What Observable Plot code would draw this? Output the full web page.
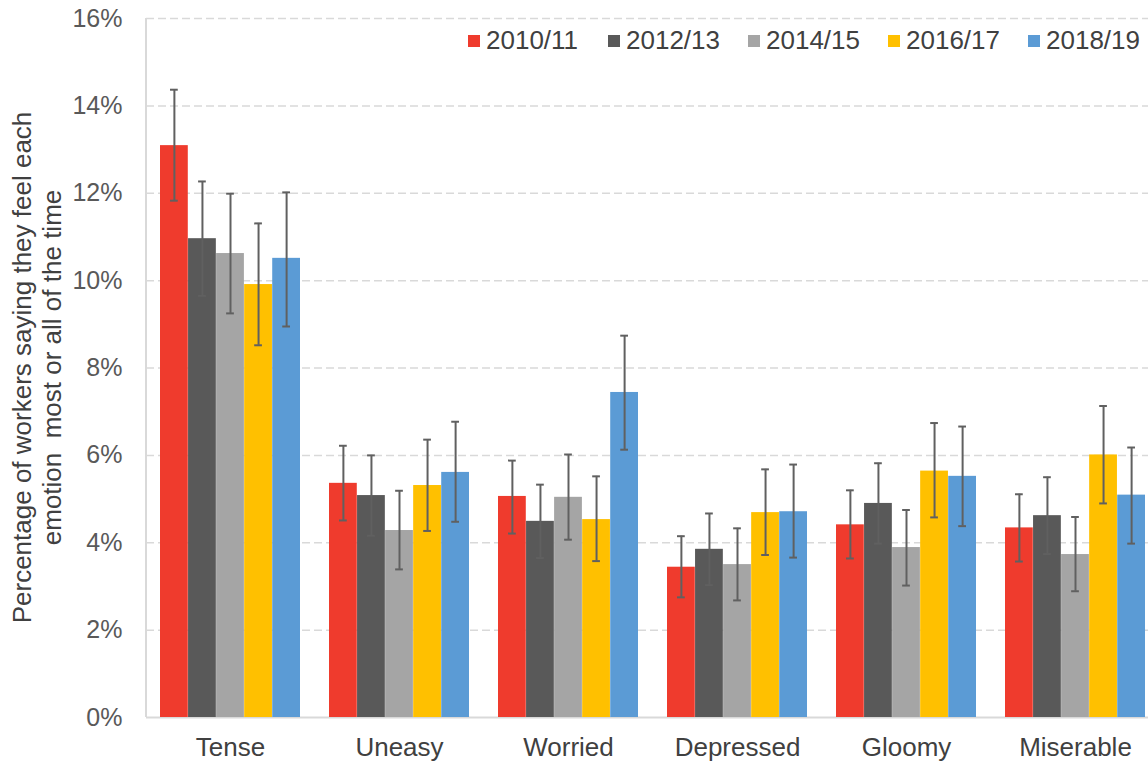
<!DOCTYPE html>
<html><head><meta charset="utf-8">
<script src="https://cdn.jsdelivr.net/npm/d3@7"></script>
<script src="https://cdn.jsdelivr.net/npm/@observablehq/plot@0.6"></script>
<style>
html,body{margin:0;padding:0;overflow:hidden;background:#fff;}
#wrap{position:relative;width:1148px;height:763px;overflow:hidden;}
#wrap svg{position:absolute;left:0;top:0;max-width:none !important;width:1160px !important;height:763px !important;}
.legend{position:absolute;top:25px;left:0;font-family:"Liberation Sans",Arial,sans-serif;font-size:26px;color:#404040;}
.legend .item{position:absolute;display:flex;align-items:center;white-space:nowrap;}
.legend .sw{width:12px;height:12px;margin-right:6px;}
</style></head><body><div id="wrap"></div>
<script>
const categories = ["Tense","Uneasy","Worried","Depressed","Gloomy","Miserable"];
const years = ["2010/11","2012/13","2014/15","2016/17","2018/19"];
const colors = ["#EF3B2D","#595959","#A5A5A5","#FFC000","#5B9BD5"];
const yTicks = [0,2,4,6,8,10,12,14,16];

const v2010 = [13.09,5.36,5.06,3.44,4.41,4.34];
const lo2010 = [11.83,4.51,4.21,2.75,3.64,3.57];
const hi2010 = [14.37,6.22,5.88,4.15,5.20,5.11];

const v2012 = [10.96,5.08,4.49,3.85,4.90,4.62];
const lo2012 = [9.65,4.16,3.65,3.03,3.98,3.74];
const hi2012 = [12.27,6.00,5.33,4.67,5.82,5.50];

const v2014 = [10.62,4.28,5.04,3.50,3.89,3.73];
const lo2014 = [9.25,3.39,4.07,2.68,3.02,2.89];
const hi2014 = [11.99,5.19,6.02,4.33,4.75,4.59];

const v2016 = [9.91,5.31,4.53,4.69,5.64,6.01];
const lo2016 = [8.52,4.27,3.58,3.72,4.58,4.90];
const hi2016 = [11.31,6.36,5.52,5.68,6.74,7.13];

const v2018 = [10.51,5.61,7.44,4.71,5.52,5.09];
const lo2018 = [8.95,4.48,6.13,3.66,4.38,3.98];
const hi2018 = [12.02,6.77,8.74,5.79,6.66,6.18];

const series = [[v2010,lo2010,hi2010],[v2012,lo2012,hi2012],[v2014,lo2014,hi2014],[v2016,lo2016,hi2016],[v2018,lo2018,hi2018]];

const W = 1160, H = 763, mL = 146, mR = 0, mT = 18, mB = 46;
const pI = 0.17, pO = 0.085;
const step = (W - mL - mR) / (categories.length - pI + 2 * pO);
const bw = step * (1 - pI);
const sub = bw / years.length;
const capHalf = 4;

const marks = [
  Plot.ruleY(yTicks.filter(d => d > 0), {stroke: "#d9d9d9", strokeWidth: 1.5, strokeDasharray: "8,4"}),
  Plot.ruleY([0], {stroke: "#d9d9d9", strokeWidth: 2})
];
years.forEach((yr, i) => {
  const [v, lo, hi] = series[i];
  const rows = categories.map((c, j) => ({cat: c, value: v[j], lo: lo[j], hi: hi[j]}));
  const off = -bw / 2 + sub * (i + 0.5);
  marks.push(Plot.barY(rows, {x: "cat", y: "value", fill: colors[i], insetLeft: sub * i, insetRight: sub * (years.length - 1 - i)}));
  marks.push(Plot.ruleX(rows, {x: "cat", y1: "lo", y2: "hi", dx: off, stroke: "#606060", strokeWidth: 2}));
  const capInL = sub * i + sub / 2 - capHalf, capInR = sub * (years.length - 1 - i) + sub / 2 - capHalf;
  marks.push(Plot.tickY(rows, {x: "cat", y: "hi", insetLeft: capInL, insetRight: capInR, stroke: "#606060", strokeWidth: 2}));
  marks.push(Plot.tickY(rows, {x: "cat", y: "lo", insetLeft: capInL, insetRight: capInR, stroke: "#606060", strokeWidth: 2}));
});

const chart = Plot.plot({
  width: W, height: H,
  marginLeft: mL, marginRight: mR, marginTop: mT, marginBottom: mB,
  style: {fontFamily: "'Liberation Sans', Arial, sans-serif", fontSize: "25px", background: "#fff"},
  x: {domain: categories, paddingInner: pI, paddingOuter: pO, label: null, tickSize: 0, tickPadding: 20},
  y: {domain: [0, 16], ticks: yTicks, tickFormat: d => d + "%", label: null, tickSize: 0, tickPadding: 24},
  marks: [
    ...marks,
    Plot.axisX({tickSize: 0, tickPadding: 20, fill: "#404040", fontSize: 26, label: null}),
    Plot.axisY({ticks: yTicks, tickFormat: d => d + "%", tickSize: 0, tickPadding: 24, fill: "#595959", fontSize: 25, label: null})
  ]
});
document.getElementById("wrap").appendChild(chart);

const svg = d3.select(chart);
svg.append("line").attr("x1", mL).attr("x2", mL).attr("y1", mT).attr("y2", H - mB)
  .attr("stroke", "#d9d9d9").attr("stroke-width", 2);
const t = svg.append("text").attr("transform", `translate(0,${(mT + H - mB) / 2}) rotate(-90)`)
  .attr("text-anchor", "middle").attr("fill", "#404040")
  .style("font-family", "'Liberation Sans', Arial, sans-serif").style("font-size", "26px");
t.append("tspan").attr("x", 0).attr("y", 31).text("Percentage of workers saying they feel each");
t.append("tspan").attr("x", 0).attr("y", 61).attr("xml:space", "preserve").style("white-space", "pre").text("emotion  most or all of the time");

const lg = d3.select("#wrap").append("div").attr("class", "legend");
years.forEach((yr, i) => {
  const it = lg.append("div").attr("class", "item").style("left", (468 + 140 * i) + "px");
  it.append("div").attr("class", "sw").style("background", colors[i]);
  it.append("span").text(yr);
});
</script></body></html>
